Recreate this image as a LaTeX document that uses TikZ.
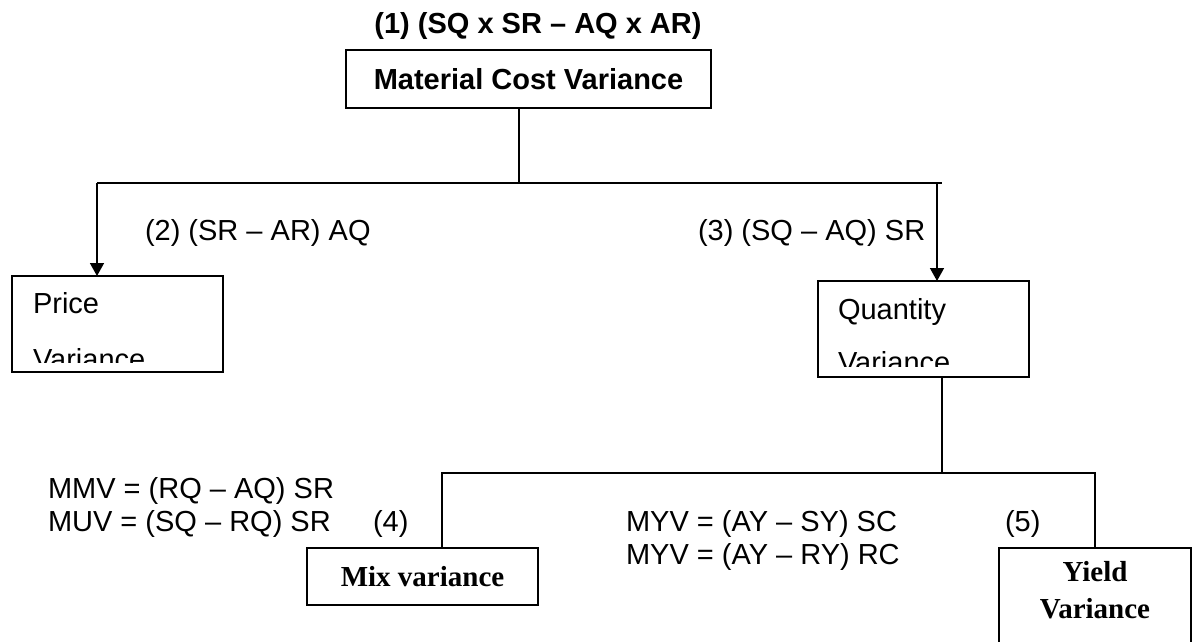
\documentclass[tikz,border=0pt]{standalone}
\usepackage{fontspec}
\setmainfont{Liberation Sans}
\newfontfamily\serifbold{Liberation Serif}[BoldFont={Liberation Serif Bold}]
\usetikzlibrary{arrows.meta}

\begin{document}
\begin{tikzpicture}[x=1pt,y=-1pt,
  every node/.style={inner sep=0pt, outer sep=0pt},
  txt/.style={font=\fontsize{29}{33}\selectfont, anchor=base west},
  titletxt/.style={font=\fontsize{29}{33}\selectfont\bfseries},
  seriftxt/.style={font=\fontsize{29}{33}\serifbold\bfseries\selectfont},
  box/.style={draw, line width=1.8pt, rectangle, anchor=north west},
  link/.style={line width=1.5pt},
  arrowlink/.style={link, -{Triangle[length=13pt,width=14pt]}},
]
% page frame
\clip (0,0) rectangle (1198,641);
\fill[white] (0,0) rectangle (1198,641);

% top formula and root box
\node[titletxt, anchor=base] (f1) at (538,33) {(1) (SQ x SR – AQ x AR)};
\node[box, minimum width=365pt, minimum height=58pt, titletxt] (mcv) at (346,50) {Material Cost Variance};

% price and quantity boxes
\node[box, minimum width=211pt, minimum height=96pt] (price) at (12,276) {};
\node[box, minimum width=211pt, minimum height=96pt] (qty) at (818,281) {};
\begin{scope}
  \clip (12,276) rectangle (223,362);
  \node[txt] (pricea) at (33,313) {Price};
  \node[txt] (priceb) at (33,369) {Variance};
\end{scope}
\begin{scope}
  \clip (818,281) rectangle (1029,366);
  \node[txt] (qtya) at (838,319) {Quantity};
  \node[txt] (qtyb) at (838,372) {Variance};
\end{scope}

% mix and yield boxes
\node[box, minimum width=231pt, minimum height=57pt, seriftxt, anchor=center] (mix) at (422.5,576.5) {Mix variance};
\node[box, minimum width=192pt, minimum height=130pt] (yield) at (999,548) {};
\node[seriftxt, anchor=base] (yielda) at (1095,581) {Yield};
\node[seriftxt, anchor=base] (yieldb) at (1095,618) {Variance};

% formulas along the branches
\node[txt] (f2) at (145,240) {(2) (SR – AR) AQ};
\node[txt] (f3) at (698,240) {(3) (SQ – AQ) SR};
\node[txt] (mmv) at (48,498) {MMV = (RQ – AQ) SR};
\node[txt] (muv) at (48,531) {MUV = (SQ – RQ) SR};
\node[txt] (f4) at (373,531) {(4)};
\node[txt] (myva) at (626,531) {MYV = (AY – SY) SC};
\node[txt] (myvb) at (626,564) {MYV = (AY – RY) RC};
\node[txt] (f5) at (1005,531) {(5)};

% first split
\coordinate (s1) at (519,183);
\coordinate (s1l) at (97,183);
\coordinate (s1r) at (942,183);
\coordinate (s1a) at (937,183);
\draw[link] (mcv.south -| s1) -- (s1);
\draw[link] (s1l) -- (s1r);
\draw[arrowlink] (s1l) -- (s1l |- price.north);
\draw[arrowlink] (s1a) -- (s1a |- qty.north);

% second split
\coordinate (s2) at (942,473);
\coordinate (s2l) at (442,473);
\coordinate (s2r) at (1095,473);
\draw[link] (qty.south -| s2) -- (s2);
\draw[link] (mix.north -| s2l) -- (s2l) -- (s2r) -- (yield.north -| s2r);
\end{tikzpicture}
\end{document}
